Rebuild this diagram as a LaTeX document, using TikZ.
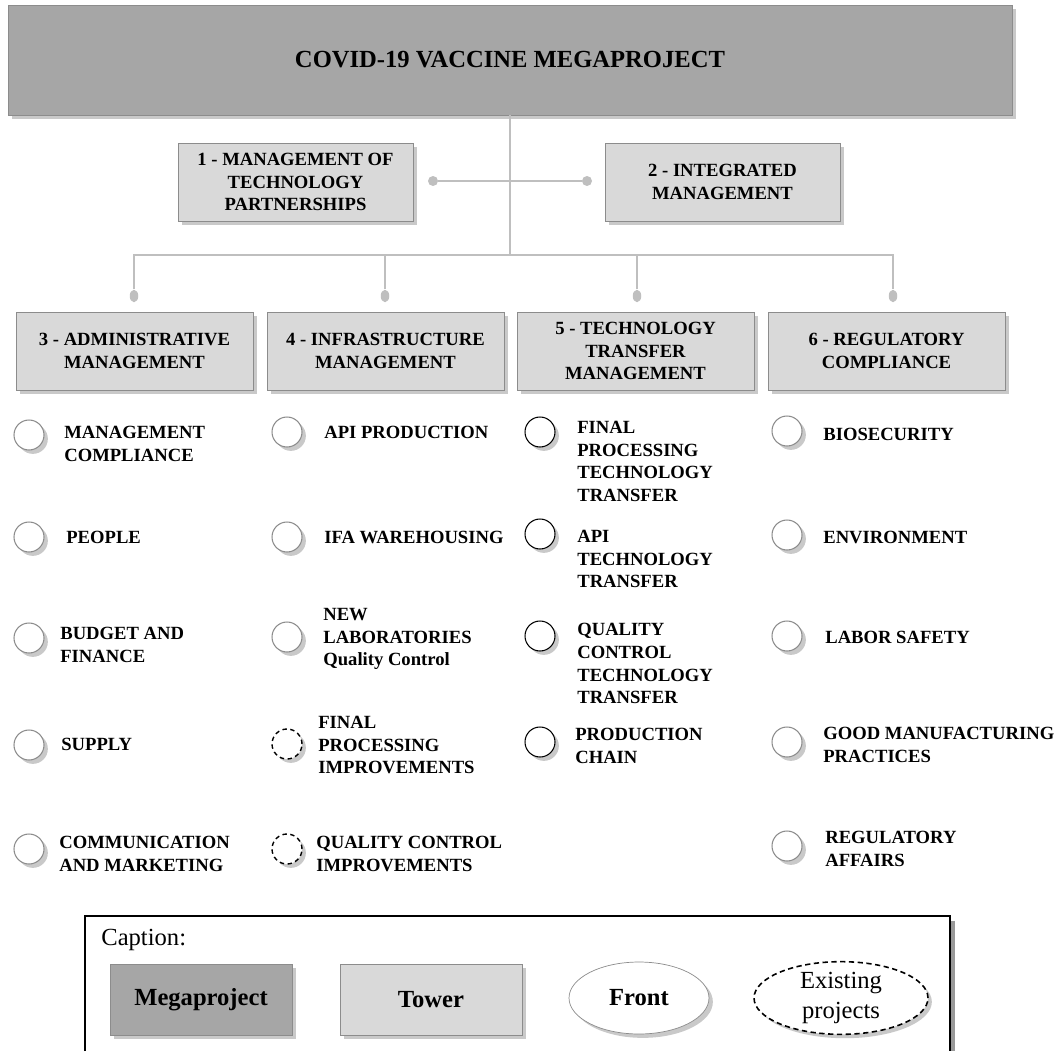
\documentclass[tikz,border=0pt]{standalone}
\usepackage{fontspec}
\setmainfont{Liberation Serif}
\usetikzlibrary{shadows,shapes.geometric,positioning}

\tikzset{
  softshadow/.style={drop shadow={shadow xshift=2.2pt,shadow yshift=-2.2pt,opacity=0.3,fill=black!70}},
  mega/.style={rectangle,draw=black!45,fill=black!35,softshadow,minimum width=20.08cm,minimum height=2.2cm,font=\fontsize{14}{17}\selectfont\bfseries},
  tower/.style={rectangle,draw=black!45,fill=black!15,softshadow,minimum height=1.56cm,align=center,inner sep=1pt,font=\fontsize{10.6}{12.9}\selectfont\bfseries},
  link/.style={draw=black!25,line width=0.6pt},
  joint/.style={circle,fill=black!25,inner sep=0pt,minimum size=0.2cm},
  tjoint/.style={ellipse,fill=black!25,inner sep=0pt,minimum width=0.17cm,minimum height=0.25cm},
  front/.style={circle,draw=black!45,fill=white,softshadow,line width=0.6pt,minimum size=0.6cm,inner sep=0pt},
  tfront/.style={front,draw=black},
  oldfront/.style={front,draw=black,dash pattern=on 2.5pt off 2pt,line width=0.8pt},
  itemtxt/.style={anchor=north west,align=left,inner sep=0pt,font=\fontsize{10.6}{12.9}\selectfont\bfseries},
  legtxt/.style={font=\fontsize{14}{17}\selectfont},
  legbold/.style={font=\fontsize{14}{17}\selectfont\bfseries}
}

\begin{document}
\begin{tikzpicture}[x=0.02cm,y=-0.02cm]
        \useasboundingbox (0,0) rectangle (1061,1051);
        \node[mega] (mega) at (510,60) {COVID-19 VACCINE MEGAPROJECT};
        \node[tower,minimum width=4.7cm] (t1) at (295.5,182) {1 - MANAGEMENT OF\\TECHNOLOGY\\PARTNERSHIPS};
        \node[tower,minimum width=4.7cm] (t2) at (722.5,182) {2 - INTEGRATED\\MANAGEMENT};
        \foreach \x/\n/\txt in {134.5/3/{3 - ADMINISTRATIVE\\MANAGEMENT}, 385.5/4/{4 - INFRASTRUCTURE\\MANAGEMENT},
                                635.5/5/{5 - TECHNOLOGY\\TRANSFER\\MANAGEMENT}, 886.5/6/{6 - REGULATORY\\COMPLIANCE}}
        \node[tower,minimum width=4.74cm] (t\n) at (\x,351) {\txt};

        \node[joint] (j1) at (433,181) {};
        \node[joint] (j2) at (587,181) {};
        \foreach \x/\n in {134/3, 385/4, 637/5, 893/6}
        \node[tjoint] (j\n) at (\x,296) {};
        \coordinate (bus) at (510,255);

        \draw[link] (j1) -- (j2);
        \draw[link] (mega.south) -- (bus);
        \draw[link] (j3.north) |- (j6.north |- bus) -- (j6.north);
        \draw[link] (j4.north) -- (j4.north |- bus);
        \draw[link] (j5.north) -- (j5.north |- bus);

        \foreach \cy/\ty/\tx/\txt [count=\i] in {435/432/64/{MANAGEMENT\\COMPLIANCE}, 537/537/66/{PEOPLE},
                 638/633/60/{BUDGET AND\\FINANCE}, 745/744/61/{SUPPLY}, 849/842/59/{COMMUNICATION\\AND MARKETING}}
        {
          \node[front] (a\i) at (29,\cy) {};
          \node[itemtxt] (ta\i) at (\tx,\ty-6) {\txt};
        }
        \foreach \cy/\ty/\tx/\st/\txt [count=\i] in {432/432/324/front/{API PRODUCTION}, 537/537/324/front/{IFA WAREHOUSING},
                 637/614/323/front/{NEW\\LABORATORIES\\Quality Control}, 744/722/318/oldfront/{FINAL\\PROCESSING\\IMPROVEMENTS},
                 849/842/316/oldfront/{QUALITY CONTROL\\IMPROVEMENTS}}
        {
          \node[\st] (b\i) at (287,\cy) {};
          \node[itemtxt] (tb\i) at (\tx,\ty-6) {\txt};
        }
        \foreach \cy/\ty/\tx/\txt [count=\i] in {432/427/577/{FINAL\\PROCESSING\\TECHNOLOGY\\TRANSFER}, 534/536/577/{API\\TECHNOLOGY\\TRANSFER},
                 636/629/577/{QUALITY\\CONTROL\\TECHNOLOGY\\TRANSFER}, 742/734/575/{PRODUCTION\\CHAIN}}
        {
          \node[tfront] (c\i) at (540,\cy) {};
          \node[itemtxt] (tc\i) at (\tx,\ty-6) {\txt};
        }
        \foreach \cy/\ty/\tx/\txt [count=\i] in {431/434/823/{BIOSECURITY}, 535/537/823/{ENVIRONMENT}, 636/637/825/{LABOR SAFETY},
                 742/733/823/{GOOD MANUFACTURING\\PRACTICES}, 846/837/825/{REGULATORY\\AFFAIRS}}
        {
          \node[front] (d\i) at (787,\cy) {};
          \node[itemtxt] (td\i) at (\tx,\ty-6) {\txt};
        }

        \draw[black!40,line width=2pt] (953,921) -- (953,1051);
        \draw[line width=1.2pt] (85,1051) |- (950,916) -- (950,1051);
        \node[legtxt,anchor=west,inner sep=0pt] (cap) at (101,940) {Caption:};
        \node[mega,minimum width=3.64cm,minimum height=1.42cm] (lmega) at (201,1000) {Megaproject};
        \node[tower,legbold,minimum width=3.64cm,minimum height=1.42cm] (ltower) at (431,1000) {Tower};
        \node[ellipse,draw=black!45,fill=white,softshadow,legbold,minimum width=2.8cm,minimum height=1.44cm] (lfront) at (639,998) {Front};
        \node[ellipse,draw=black,dash pattern=on 3pt off 2pt,line width=0.9pt,fill=white,softshadow,legtxt,align=center,
              minimum width=3.48cm,minimum height=1.44cm,inner sep=0pt] (lold) at (841,998) {Existing\\projects};
\end{tikzpicture}
\end{document}
